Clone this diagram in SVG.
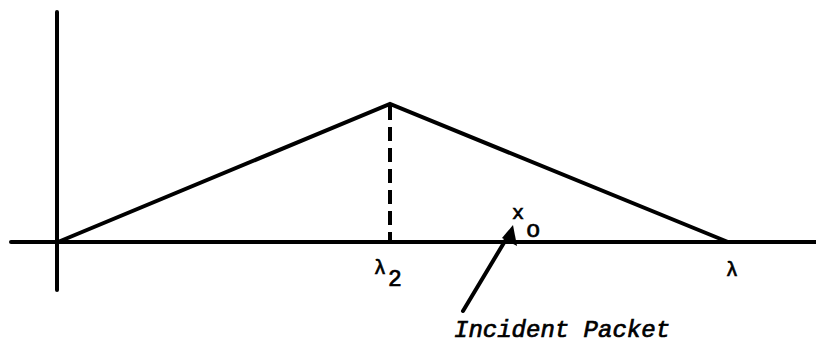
<svg xmlns="http://www.w3.org/2000/svg" width="816" height="346" viewBox="0 0 816 346">
<style>
.ax{stroke:#000;stroke-width:4;fill:none;stroke-linecap:round}
.ln{stroke:#000;stroke-width:4;fill:none;stroke-linejoin:miter}
.t{font-family:"Liberation Mono","DejaVu Sans Mono",monospace;fill:#000;stroke:#000;stroke-width:0.7}
</style>
<rect width="816" height="346" fill="#fff"/>
<g id="axes">
<line class="ax" x1="11" y1="242" x2="816" y2="242"/>
<line class="ax" x1="57" y1="12" x2="57" y2="290"/>
</g>
<g id="curve">
<polyline class="ln" points="58,242 390,104 728,242"/>
</g>
<g id="connectors">
<line x1="390" y1="106" x2="390" y2="242" stroke="#000" stroke-width="4" stroke-dasharray="14,7"/>
<line x1="463" y1="311" x2="508" y2="236" stroke="#000" stroke-width="4" stroke-linecap="round"/>
<polygon points="513,225 517,246 502,238" fill="#000"/>
</g>
<g id="labels">
<text class="t" x="374" y="274" font-size="20">λ</text>
<text class="t" x="388" y="286" font-size="23">2</text>
<text class="t" x="512" y="219" font-size="20">x</text>
<text class="t" x="526" y="237" font-size="24">o</text>
<text class="t" x="726" y="276" font-size="20">λ</text>
<text class="t" x="454" y="337" font-size="24" font-style="italic">Incident Packet</text>
</g>
</svg>
